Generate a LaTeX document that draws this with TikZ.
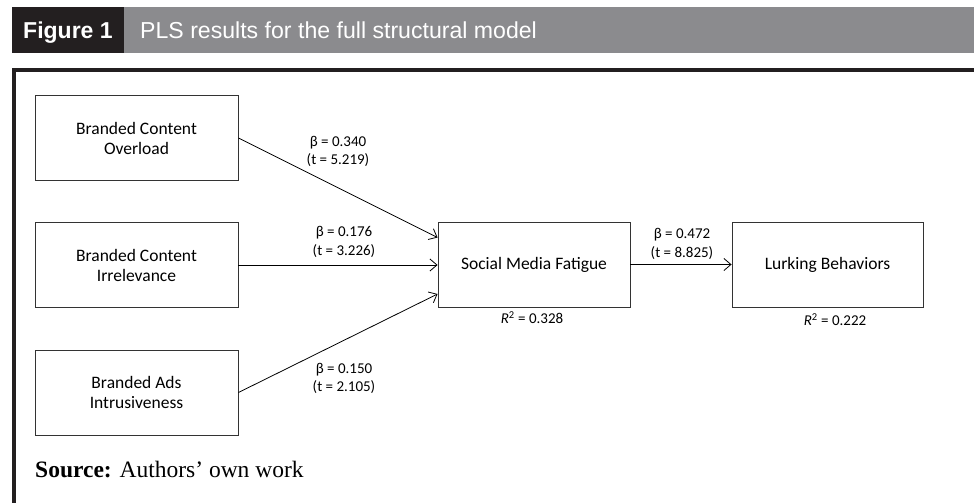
\documentclass[tikz,border=0pt]{standalone}
\usepackage{fontspec}
\setmainfont{Carlito}
\newfontfamily\headfont{Liberation Sans}
\newfontfamily\srcfont{Liberation Serif}
\usetikzlibrary{arrows.meta}
\definecolor{headdark}{HTML}{231F20}
\definecolor{headgray}{HTML}{8B8B8E}
\definecolor{boxline}{HTML}{333333}
\tikzset{construct/.style = {draw=boxline, line width=0.9pt,
                             minimum width=203pt, minimum height=85pt,
                             align=center, inner sep=0pt,
                             font=\fontsize{17.5}{20}\selectfont}}
\tikzset{effect/.style = {draw=black, line width=0.8pt,
                          -{Straight Barb[length=7pt,width=12pt]}}}
\tikzset{coef/.style = {align=center, inner sep=0pt,
                        font=\fontsize{15}{18.5}\selectfont}}
\tikzset{heading/.style = {anchor=base west, text=white, inner sep=0pt}}

\begin{document}
\begin{tikzpicture}[x=1pt, y=-1pt]
      \useasboundingbox (0,0) rectangle (974,503);
      \fill [headdark] (12,7) rectangle (124,53);
      \fill [headgray] (124,7) rectangle (974,53);
      \node [heading, font=\headfont\bfseries\fontsize{23}{27}\selectfont] (fig) at (23,39) {Figure 1};
      \node [heading, font=\headfont\fontsize{23.1}{27}\selectfont] (title) at (140,39) {PLS results for the full structural model};
      \draw [headdark, line width=3.5pt, line join=miter] (974,70) -- (14,70) -- (14,503);

      \node [construct] (overload) at (136.5,138) {Branded Content\\Overload};
      \node [construct] (irrelevance) at (136.5,265) {Branded Content\\Irrelevance};
      \node [construct] (intrusive) at (136.5,392.5) {Branded Ads\\Intrusiveness};
      \node [construct, minimum width=192pt] (fatigue) at (534,264.5) {Social Media Fatigue};
      \node [construct, minimum width=191pt] (lurking) at (827.5,264.5) {Lurking Behaviors};

      \draw [effect] (overload.east) -- ([yshift=27pt]fatigue.west);
      \draw [effect] (irrelevance.east) -- (irrelevance.east -| fatigue.west);
      \draw [effect] (intrusive.east) -- ([yshift=-29.5pt]fatigue.west);
      \draw [effect] (fatigue) -- (lurking);

      \node [coef] (coefa) at (338,151.5) {β = 0.340\\(t = 5.219)};
      \node [coef] (coefb) at (344,242) {β = 0.176\\(t = 3.226)};
      \node [coef] (coefc) at (344,378.5) {β = 0.150\\(t = 2.105)};
      \node [coef] (coefd) at (682,244) {β = 0.472\\(t = 8.825)};
      \node [coef] (rsqa) at (532,318) {\textit{R}\textsuperscript{2} = 0.328};
      \node [coef] (rsqb) at (835,320) {\textit{R}\textsuperscript{2} = 0.222};

      \node [anchor=base west, inner sep=0pt, font=\srcfont\fontsize{23.5}{28}\selectfont] (source) at (35,477) {\textbf{Source:} Authors’ own work};
    \end{tikzpicture}
\end{document}
